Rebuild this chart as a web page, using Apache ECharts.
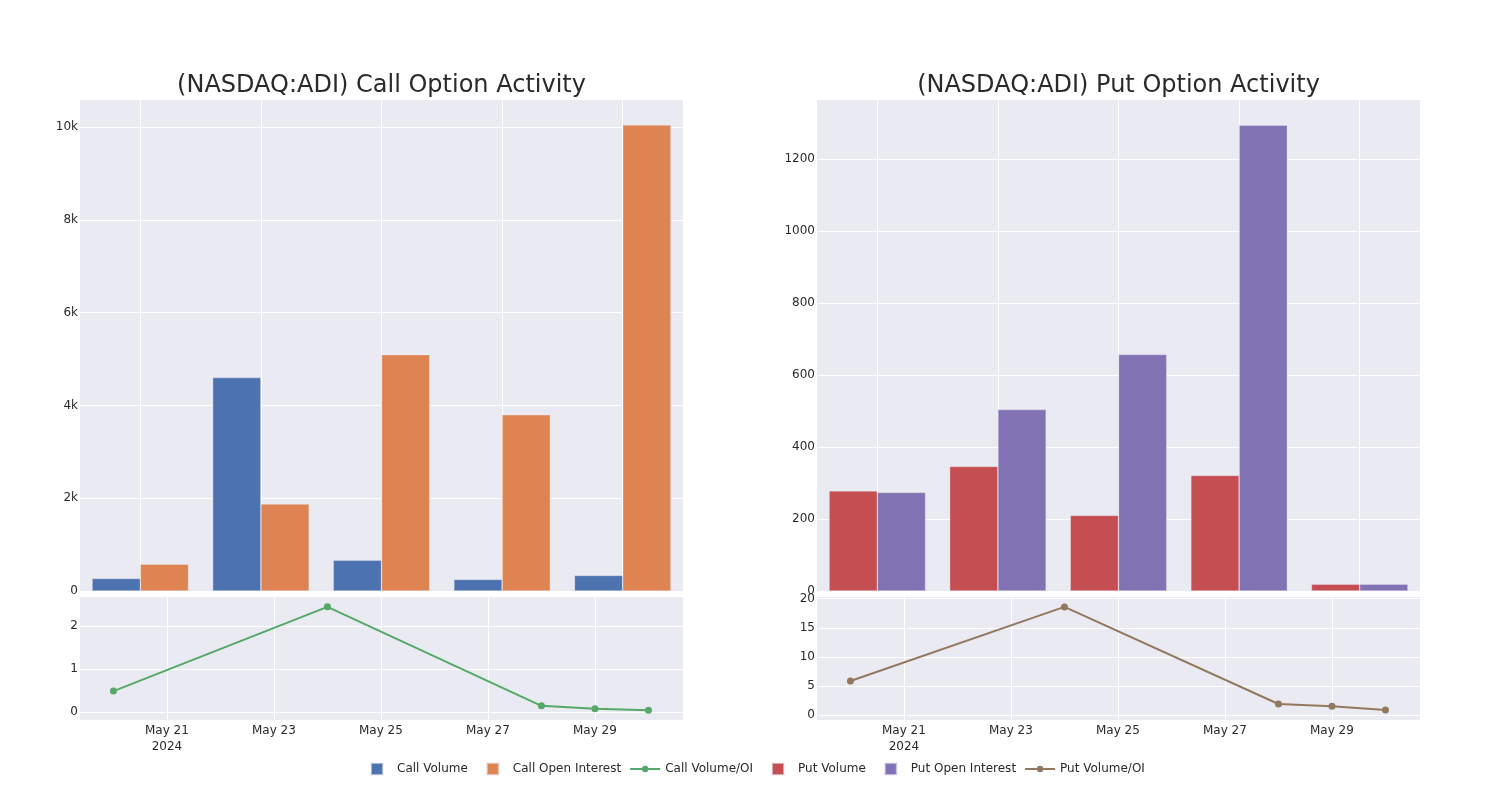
<!DOCTYPE html>
<html>
<head>
<meta charset="utf-8">
<script src="https://cdn.jsdelivr.net/npm/echarts@6/dist/echarts.min.js"></script>
<style>
html,body{margin:0;padding:0;background:#fff;}
#chart{width:1500px;height:800px;}
</style>
</head>
<body>
<div id="chart"></div>
<script>
// ---- data ----
const dates = ['2024-05-20', '2024-05-24', '2024-05-28', '2024-05-29', '2024-05-30'];
const callVolume = [270, 4600, 665, 250, 335];
const callOpenInterest = [578, 1875, 5095, 3797, 10045];
const callVolumeOI = [0.485, 2.45, 0.14, 0.07, 0.04];
const putVolume = [278, 346, 210, 321, 19];
const putOpenInterest = [274, 504, 657, 1294, 19];
const putVolumeOI = [5.9, 18.6, 1.94, 1.55, 0.91];
const callBarTicks = [0, 2000, 4000, 6000, 8000, 10000];
const putBarTicks = [0, 200, 400, 600, 800, 1000, 1200];
const callRatioTicks = [0, 1, 2];
const putRatioTicks = [0, 5, 10, 15, 20];
const dateTicks = ['2024-05-21', '2024-05-23', '2024-05-25', '2024-05-27', '2024-05-29'];
const titles = ['(NASDAQ:ADI) Call Option Activity', '(NASDAQ:ADI) Put Option Activity'];
const seriesNames = ['Call Volume', 'Call Open Interest', 'Call Volume/OI', 'Put Volume', 'Put Open Interest', 'Put Volume/OI'];

// ---- helpers ----
const FONT = 'DejaVu Sans';
const TXT = '#2a2a2a';
const BG = '#EAEAF2';
const ts = d => Date.parse(d + 'T00:00:00Z');
const MONTHS = ['Jan','Feb','Mar','Apr','May','Jun','Jul','Aug','Sep','Oct','Nov','Dec'];
const xMin = Date.UTC(2024, 4, 19, 9, 0);
const xMax = Date.UTC(2024, 4, 30, 15, 30);
const tickTs = dateTicks.map(ts);
const fmtDate = v => {
  const d = new Date(v);
  let s = MONTHS[d.getUTCMonth()] + ' ' + d.getUTCDate();
  if (v === tickTs[0]) s += '\n' + d.getUTCFullYear();
  return s;
};
const kFmt = v => v === 0 ? '0' : (v / 1000) + 'k';

const splitLine = {show: true, lineStyle: {color: '#ffffff', width: 1}};
const axLabel = (extra) => Object.assign({color: TXT, fontFamily: FONT, fontSize: 12}, extra);

const grids = [
  {left: 80, width: 603, top: 100, height: 491},
  {left: 80, width: 603, top: 597, height: 123},
  {left: 817, width: 603, top: 100, height: 491},
  {left: 817, width: 603, top: 597, height: 123}
].map(g => Object.assign({show: true, backgroundColor: BG, borderWidth: 0, containLabel: false}, g));

function barXAxis(gi) {
  return {
    type: 'category', gridIndex: gi, data: dates,
    axisLabel: {show: false}, axisTick: {show: false, alignWithLabel: true}, axisLine: {show: false},
    splitLine: Object.assign({alignWithLabel: true}, splitLine)
  };
}
function lineXAxis(gi) {
  return {
    type: 'value', gridIndex: gi, min: xMin, max: xMax,
    axisLine: {show: false},
    axisTick: {show: false, customValues: tickTs},
    axisLabel: axLabel({customValues: tickTs, formatter: fmtDate, margin: 3, lineHeight: 16}),
    splitLine: splitLine
  };
}
function yAxis(gi, min, max, ticks, fmt) {
  return {
    type: 'value', gridIndex: gi, min: min, max: max,
    axisLine: {show: false},
    axisTick: {show: false, customValues: ticks},
    axisLabel: axLabel({customValues: ticks, formatter: fmt || (v => String(v)), margin: 2}),
    splitLine: splitLine
  };
}

const barStyle = c => ({color: c, borderColor: 'rgba(234,234,242,0.6)', borderWidth: 0.6});
const colors = {cv: '#4C72B0', coi: '#DD8452', cr: '#55A868', pv: '#C44E52', poi: '#8172B3', pr: '#937860'};

// legend icons (30 x 12 box): square for bars, line + dot for lines
const sq = 'path://M0,0M30,12M9,0L21,0L21,12L9,12Z';
const ln = 'path://M0,0M30,12M0,5L11.8,5L11.8,7L0,7Z M18.2,5L30,5L30,7L18.2,7Z M15,2.8A3.2,3.2 0 1 1 15,9.2A3.2,3.2 0 1 1 15,2.8Z';

const option = {
  animation: false,
  backgroundColor: '#ffffff',
  title: [
    {text: titles[0], left: 376.5, top: 69, textAlign: 'center',
     textStyle: {fontFamily: FONT, fontSize: 24, fontWeight: 'normal', color: TXT}},
    {text: titles[1], left: 1113.5, top: 69, textAlign: 'center',
     textStyle: {fontFamily: FONT, fontSize: 24, fontWeight: 'normal', color: TXT}}
  ],
  legend: {
    left: 356, top: 757, itemWidth: 30, itemHeight: 12, itemGap: 9,
    textStyle: {fontFamily: FONT, fontSize: 12, color: TXT},
    data: [
      {name: seriesNames[0], icon: sq},
      {name: seriesNames[1], icon: sq},
      {name: seriesNames[2], icon: ln},
      {name: seriesNames[3], icon: sq},
      {name: seriesNames[4], icon: sq},
      {name: seriesNames[5], icon: ln}
    ]
  },
  grid: grids,
  xAxis: [barXAxis(0), lineXAxis(1), barXAxis(2), lineXAxis(3)],
  yAxis: [
    yAxis(0, 0, 10582, callBarTicks, kFmt),
    yAxis(1, -0.19, 2.68, callRatioTicks),
    yAxis(2, 0, 1364, putBarTicks),
    yAxis(3, -0.8, 20.3, putRatioTicks)
  ],
  series: [
    {name: seriesNames[0], type: 'bar', xAxisIndex: 0, yAxisIndex: 0, data: callVolume,
     barGap: '0%', barCategoryGap: '20%', itemStyle: barStyle(colors.cv)},
    {name: seriesNames[1], type: 'bar', xAxisIndex: 0, yAxisIndex: 0, data: callOpenInterest,
     barGap: '0%', barCategoryGap: '20%', itemStyle: barStyle(colors.coi)},
    {name: seriesNames[2], type: 'line', xAxisIndex: 1, yAxisIndex: 1,
     data: dates.map((d, i) => [ts(d), callVolumeOI[i]]),
     symbol: 'circle', symbolSize: 7, showSymbol: true,
     lineStyle: {color: colors.cr, width: 2}, itemStyle: {color: colors.cr}},
    {name: seriesNames[3], type: 'bar', xAxisIndex: 2, yAxisIndex: 2, data: putVolume,
     barGap: '0%', barCategoryGap: '20%', itemStyle: barStyle(colors.pv)},
    {name: seriesNames[4], type: 'bar', xAxisIndex: 2, yAxisIndex: 2, data: putOpenInterest,
     barGap: '0%', barCategoryGap: '20%', itemStyle: barStyle(colors.poi)},
    {name: seriesNames[5], type: 'line', xAxisIndex: 3, yAxisIndex: 3,
     data: dates.map((d, i) => [ts(d), putVolumeOI[i]]),
     symbol: 'circle', symbolSize: 7, showSymbol: true,
     lineStyle: {color: colors.pr, width: 2}, itemStyle: {color: colors.pr}}
  ]
};

const chart = echarts.init(document.getElementById('chart'), null, {renderer: 'canvas'});
chart.setOption(option);
</script>
</body>
</html>
